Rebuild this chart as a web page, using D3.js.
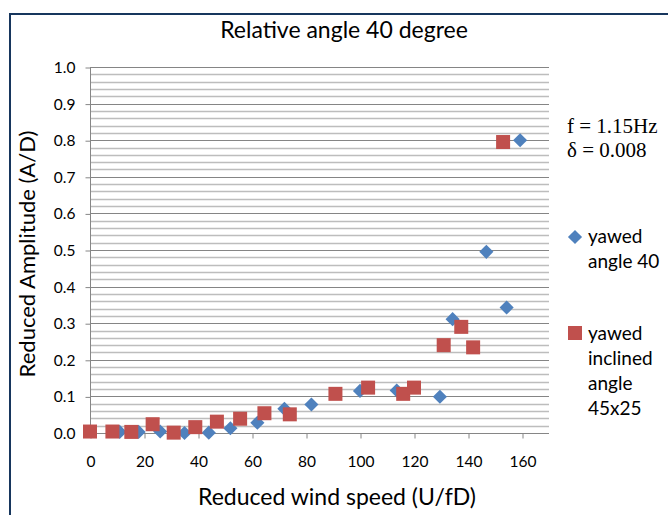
<!DOCTYPE html>
<html><head><meta charset="utf-8">
<script src="https://cdn.jsdelivr.net/npm/d3@7"></script>
<style>html,body{margin:0;padding:0;background:#fff;}svg{display:block;}</style>
</head><body>
<svg id="c" width="668" height="515"></svg>
<script>
const titleText = "Relative angle 40 degree";
const xLabel = "Reduced wind speed (U/fD)";
const yLabel = "Reduced Amplitude (A/D)";
const xTicks = [0, 20, 40, 60, 80, 100, 120, 140, 160];
const yTicks = [0, 0.1, 0.2, 0.3, 0.4, 0.5, 0.6, 0.7, 0.8, 0.9, 1.0];
const seriesNames = [["yawed", "angle 40"], ["yawed", "inclined", "angle", "45x25"]];
const annotation = ["f = 1.15Hz", "\u03b4 = 0.008"];

const yawedX = [11, 18, 26, 35, 44, 52, 62, 72, 82, 100, 113.6, 129.6, 134.3, 146.8, 154.3, 159.3];
const yawedY = [0.003, 0.003, 0.004, 0.0, 0.001, 0.013, 0.028, 0.066, 0.078, 0.115, 0.116, 0.099, 0.311, 0.495, 0.343, 0.80];
const inclX = [0, 8.3, 15.3, 23.2, 31, 39, 47, 55.6, 64.6, 74, 90.9, 103, 116, 120, 131, 137.5, 141.9, 153];
const inclY = [0.004, 0.004, 0.003, 0.024, 0.001, 0.016, 0.031, 0.039, 0.054, 0.051, 0.107, 0.124, 0.107, 0.124, 0.24, 0.29, 0.234, 0.795];

const blue = "#4F81BD", red = "#C0504D";
const font = "Lato, 'Open Sans', sans-serif";

const svg = d3.select("#c");
// frame
svg.append("rect").attr("x", 10).attr("y", 14).attr("width", 720).attr("height", 620)
  .attr("fill", "none").attr("stroke", "#17365D").attr("stroke-width", 2);

const x = d3.scaleLinear().domain([0, 170]).range([90, 549]);
const y = d3.scaleLinear().domain([0, 1]).range([433, 67]);

// minor gridlines
const minor = d3.range(0, 1.0001, 0.02).filter(v => Math.abs(Math.round(v*10) - v*10) > 1e-6);
svg.append("g").selectAll("line").data(minor).join("line")
  .attr("x1", x(0)).attr("x2", x(170))
  .attr("y1", d => Math.round(y(d)) + 0.5).attr("y2", d => Math.round(y(d)) + 0.5)
  .attr("stroke", "#bdbdbd").attr("stroke-width", 1.5);
// major gridlines
svg.append("g").selectAll("line").data(yTicks.slice(1)).join("line")
  .attr("x1", x(0)).attr("x2", x(170))
  .attr("y1", d => Math.round(y(d)) + 0.5).attr("y2", d => Math.round(y(d)) + 0.5)
  .attr("stroke", "#858585").attr("stroke-width", 1);

// axes
const yAxis = d3.axisLeft(y).tickValues(yTicks).tickFormat(d3.format(".1f")).tickSize(5).tickPadding(10);
const gy = svg.append("g").attr("transform", `translate(${x(0) + 0.5},0.5)`).call(yAxis);
const xAxis = d3.axisBottom(x).tickValues(xTicks).tickFormat(d3.format("d")).tickSize(5).tickPadding(17);
const gx = svg.append("g").attr("transform", `translate(0.5,${y(0) + 0.5})`).call(xAxis);
[gx, gy].forEach(g => {
  g.select(".domain").remove();
  g.selectAll(".tick line").attr("stroke", "#868686");
  g.selectAll("text").attr("font-family", font).attr("font-size", 15.5).attr("fill", "#000");
});
svg.append("line").attr("x1", x(0) + 0.5).attr("x2", x(0) + 0.5).attr("y1", y(1)).attr("y2", y(0))
  .attr("stroke", "#868686");
svg.append("line").attr("x1", x(0)).attr("x2", x(170)).attr("y1", y(0) + 0.5).attr("y2", y(0) + 0.5)
  .attr("stroke", "#868686");

// points
const diamond = d3.symbol().type(d3.symbolSquare).size(100);
svg.append("g").selectAll("path").data(yawedX.map((v, i) => [v, yawedY[i]])).join("path")
  .attr("d", diamond)
  .attr("transform", d => `translate(${x(d[0])},${y(d[1])}) rotate(45)`)
  .attr("fill", blue);
svg.append("g").selectAll("rect").data(inclX.map((v, i) => [v, inclY[i]])).join("rect")
  .attr("x", d => x(d[0]) - 7).attr("y", d => y(d[1]) - 7)
  .attr("width", 14).attr("height", 14).attr("fill", red);

// title and axis labels
svg.append("text").attr("x", 344).attr("y", 38).attr("text-anchor", "middle")
  .attr("font-family", font).attr("font-size", 23).text(titleText);
svg.append("text").attr("x", 337).attr("y", 505).attr("text-anchor", "middle")
  .attr("font-family", font).attr("font-size", 23).text(xLabel);
svg.append("text").attr("transform", "translate(35,254) rotate(-90)").attr("text-anchor", "middle")
  .attr("font-family", font).attr("font-size", 22).text(yLabel);

// annotation
svg.append("g").selectAll("text").data(annotation).join("text")
  .attr("x", 567).attr("y", (d, i) => 133 + i * 24)
  .attr("font-family", "'Liberation Serif', 'Times New Roman', serif").attr("font-size", 21)
  .text(d => d);

// legend
svg.append("path").attr("d", diamond).attr("transform", "translate(575,237) rotate(45)").attr("fill", blue);
svg.append("rect").attr("x", 568).attr("y", 326).attr("width", 14).attr("height", 14).attr("fill", red);
const legTop = [243, 340];
seriesNames.forEach((lines, k) => {
  svg.append("g").selectAll("text").data(lines).join("text")
    .attr("x", 588).attr("y", (d, i) => legTop[k] + i * 25)
    .attr("font-family", font).attr("font-size", 19).text(d => d);
});
</script>
</body></html>
